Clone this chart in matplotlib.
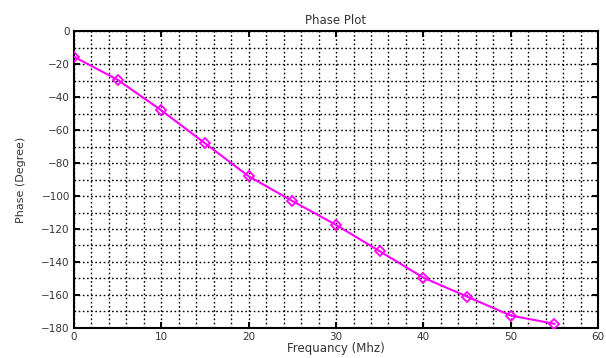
import matplotlib
matplotlib.use("Agg")
import matplotlib.pyplot as plt
from matplotlib.ticker import MultipleLocator

freq = [0, 5, 10, 15, 20, 25, 30, 35, 40, 45, 50, 55]
phase = [-15.5, -29.5, -48, -68, -88, -103, -117.5, -133.5, -149.5, -161, -172.5, -177.5]

plt.rcParams['font.family'] = ['DejaVu Sans']
fig = plt.figure(figsize=(6.06, 3.58), dpi=100)
ax = fig.add_axes([0.122, 0.084, 0.865, 0.829])

ax.plot(freq, phase, color='#ff00ff', linewidth=1.5, marker='D', markersize=5.5,
        markerfacecolor='none', markeredgecolor='#ff00ff', markeredgewidth=1.3, zorder=3)

ax.set_xlim(0, 60)
ax.set_ylim(-180, 0)
ax.xaxis.set_major_locator(MultipleLocator(10))
ax.xaxis.set_minor_locator(MultipleLocator(2))
ax.yaxis.set_major_locator(MultipleLocator(20))
ax.yaxis.set_minor_locator(MultipleLocator(10))
ax.set_yticks(range(-180, 1, 20))
ax.set_yticklabels([('\u2212' + str(-v)) if v < 0 else str(v) for v in range(-180, 1, 20)])

ax.grid(which='both', color='black', linestyle=(0, (1.2, 1.8)), linewidth=1.0)
ax.tick_params(which='major', direction='in', top=True, right=True, length=4, width=1.4,
               labelsize=7.5, pad=3, labelcolor='#333333')
ax.tick_params(which='minor', direction='in', top=False, right=False, length=0)
for s in ax.spines.values():
    s.set_linewidth(1.5)

ax.set_title('Phase Plot', fontsize=8.5, pad=5, color='#333333')
ax.set_xlabel('Frequancy (Mhz)', fontsize=8.5, labelpad=0, color='#333333')
ax.set_ylabel('Phase (Degree)', fontsize=8, labelpad=11, color='#333333')

fig.savefig('out.png', dpi=100)
